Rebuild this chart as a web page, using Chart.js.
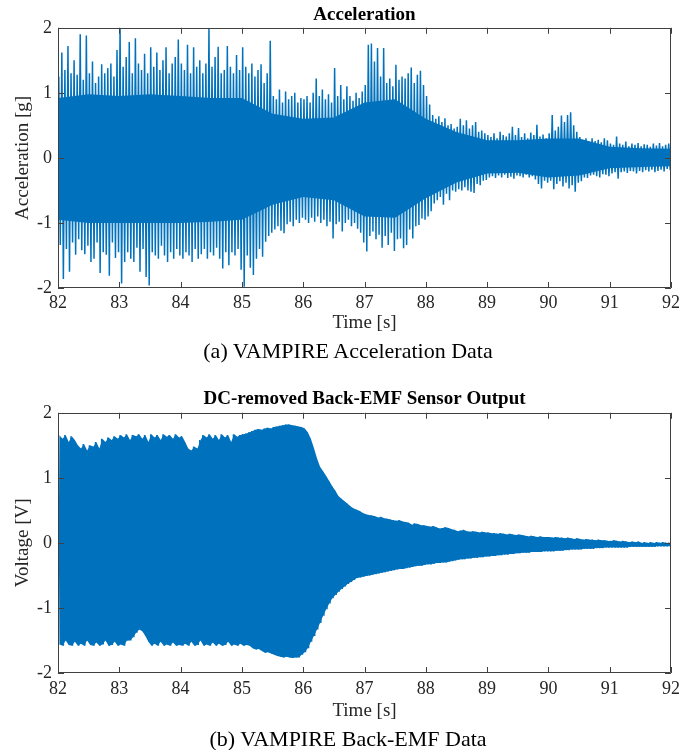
<!DOCTYPE html>
<html>
<head>
<meta charset="utf-8">
<script src="https://cdn.jsdelivr.net/npm/chart.js@4.4.1/dist/chart.umd.min.js"></script>
<style>
  body { margin: 0; background: #fff; }
  #page { position: relative; width: 696px; height: 750px; }
  canvas { position: absolute; left: 0; }
  .caption { position: absolute; left: 0; width: 696px; text-align: center; font: 22px "Liberation Serif", "Times New Roman", serif; color: #000; }
</style>
</head>
<body>
<div id="page">
  <canvas id="accChart" width="696" height="340" style="top:0"></canvas>
  <div class="caption" style="top:338px">(a) VAMPIRE Acceleration Data</div>
  <canvas id="emfChart" width="696" height="343" style="top:385px"></canvas>
  <div class="caption" style="top:726px">(b) VAMPIRE Back-EMF Data</div>
</div>
<script>
const windowStart = 82;
const windowStep = 0.05;

const timeTickLabels = ['82', '83', '84', '85', '86', '87', '88', '89', '90', '91', '92'];
const ampTickLabels = ['-2', '-1', '0', '1', '2'];

const accMax = [
    1.25, 1.62, 1.35, 1.72, 1.30, 1.50, 1.28, 1.90, 1.20, 1.88, 1.30, 1.48, 1.15, 1.25, 1.44, 1.30, 1.38, 1.45, 1.25, 1.66,
    2.00, 1.40, 1.55, 1.78, 1.30, 1.84, 1.45, 1.35, 1.60, 1.30, 1.70, 1.40, 1.62, 1.35, 1.50, 1.70, 1.30, 1.45, 1.55, 1.82,
    1.45, 1.35, 1.74, 1.30, 1.70, 1.40, 1.50, 1.30, 1.45, 2.00, 1.40, 1.55, 1.71, 1.30, 1.35, 1.72, 1.40, 1.30, 1.58, 1.35,
    1.70, 1.40, 1.30, 1.45, 1.25, 1.35, 1.44, 1.15, 1.30, 1.80, 0.95, 0.90, 1.05, 0.85, 1.02, 0.90, 0.95, 1.00, 0.85, 0.92,
    0.90, 0.95, 0.85, 1.00, 1.22, 0.95, 1.05, 0.90, 0.98, 0.85, 1.38, 0.95, 1.12, 0.90, 1.10, 0.95, 0.88, 1.00, 0.92, 1.02,
    1.12, 1.74, 1.76, 1.48, 1.69, 1.25, 1.69, 1.15, 1.22, 1.10, 1.43, 1.20, 1.25, 1.22, 1.30, 1.39, 1.15, 1.28, 1.34, 1.12,
    0.95, 0.82, 0.66, 0.60, 0.64, 0.55, 0.61, 0.50, 0.52, 0.45, 0.48, 0.60, 0.50, 0.58, 0.45, 0.50, 0.55, 0.40, 0.42, 0.38,
    0.35, 0.32, 0.38, 0.30, 0.40, 0.35, 0.33, 0.38, 0.48, 0.35, 0.46, 0.32, 0.38, 0.30, 0.39, 0.35, 0.51, 0.33, 0.36, 0.30,
    0.38, 0.66, 0.42, 0.48, 0.65, 0.55, 0.66, 0.70, 0.50, 0.40, 0.32, 0.28, 0.30, 0.25, 0.30, 0.26, 0.28, 0.24, 0.30, 0.27,
    0.22, 0.20, 0.33, 0.22, 0.20, 0.25, 0.18, 0.22, 0.20, 0.23, 0.18, 0.21, 0.20, 0.17, 0.22, 0.19, 0.23, 0.18, 0.20, 0.22
];
const accMin = [
    -1.34, -1.86, -1.40, -1.75, -1.30, -1.49, -1.25, -1.42, -1.48, -1.35, -1.60, -1.55, -1.30, -1.77, -1.45, -1.49, -1.81, -1.30, -1.54, -1.45,
    -1.93, -1.60, -1.45, -1.55, -1.60, -1.38, -1.75, -1.40, -1.83, -1.96, -1.45, -1.50, -1.55, -1.35, -1.50, -1.60, -1.45, -1.55, -1.40, -1.50,
    -1.55, -1.45, -1.50, -1.60, -1.40, -1.55, -1.48, -1.40, -1.55, -1.45, -1.50, -1.38, -1.55, -1.70, -1.45, -1.65, -1.45, -1.50, -1.40, -1.72,
    -1.98, -1.50, -1.69, -1.80, -1.55, -1.40, -1.52, -1.29, -1.20, -1.15, -1.10, -1.05, -1.12, -1.16, -1.02, -0.98, -1.05, -0.95, -1.00, -0.92,
    -0.95, -1.00, -0.92, -0.98, -0.90, -1.00, -0.95, -1.05, -0.98, -1.24, -1.02, -0.98, -1.13, -1.00, -0.95, -1.05, -1.00, -1.09, -1.15, -1.30,
    -1.44, -1.20, -1.13, -1.25, -1.18, -1.38, -1.20, -1.34, -1.15, -1.43, -1.25, -1.24, -1.39, -1.34, -1.10, -1.24, -1.05, -1.03, -0.93, -0.95,
    -0.90, -0.82, -0.70, -0.65, -0.60, -0.72, -0.55, -0.65, -0.50, -0.52, -0.48, -0.50, -0.45, -0.50, -0.52, -0.54, -0.40, -0.42, -0.35, -0.34,
    -0.30, -0.28, -0.31, -0.27, -0.30, -0.26, -0.31, -0.29, -0.32, -0.27, -0.28, -0.30, -0.26, -0.30, -0.28, -0.33, -0.40, -0.47, -0.35, -0.38,
    -0.35, -0.48, -0.40, -0.36, -0.44, -0.38, -0.47, -0.42, -0.52, -0.38, -0.36, -0.30, -0.31, -0.27, -0.26, -0.28, -0.30, -0.25, -0.26, -0.28,
    -0.24, -0.22, -0.32, -0.22, -0.21, -0.23, -0.20, -0.21, -0.24, -0.20, -0.22, -0.19, -0.21, -0.18, -0.22, -0.20, -0.18, -0.21, -0.17, -0.19
];

// solid inner band of the acceleration trace, read every half second
const accCoreTime = [82, 82.5, 83, 83.5, 84, 84.5, 85, 85.5, 86, 86.5, 87, 87.5, 88, 88.5, 89, 89.5, 90, 90.5, 91, 91.5, 92];
const accCoreHi = [0.92, 0.98, 0.95, 0.98, 0.95, 0.92, 0.92, 0.68, 0.60, 0.62, 0.85, 0.90, 0.60, 0.40, 0.27, 0.27, 0.30, 0.30, 0.17, 0.15, 0.14];
const accCoreLo = [-0.95, -1.00, -1.00, -1.00, -1.00, -0.98, -0.95, -0.72, -0.60, -0.65, -0.90, -0.92, -0.62, -0.38, -0.24, -0.23, -0.30, -0.27, -0.16, -0.14, -0.13];

const emfMax = [
    1.65, 1.60, 1.66, 1.55, 1.64, 1.58, 1.50, 1.45, 1.52, 1.42, 1.50, 1.48, 1.55, 1.45, 1.60, 1.55, 1.62, 1.58, 1.64, 1.60,
    1.66, 1.62, 1.67, 1.58, 1.66, 1.64, 1.67, 1.60, 1.66, 1.55, 1.67, 1.62, 1.66, 1.58, 1.67, 1.63, 1.66, 1.60, 1.67, 1.62,
    1.64, 1.55, 1.45, 1.42, 1.48, 1.45, 1.58, 1.66, 1.62, 1.67, 1.60, 1.66, 1.58, 1.67, 1.62, 1.66, 1.55, 1.67, 1.63, 1.66,
    1.67, 1.68, 1.70, 1.72, 1.74, 1.75, 1.74, 1.76, 1.77, 1.76, 1.78, 1.79, 1.80, 1.81, 1.82, 1.82, 1.81, 1.80, 1.79, 1.78,
    1.76, 1.70, 1.60, 1.46, 1.30, 1.17, 1.10, 1.03, 0.95, 0.87, 0.80, 0.72, 0.68, 0.64, 0.60, 0.56, 0.53, 0.51, 0.49, 0.46,
    0.44, 0.43, 0.42, 0.41, 0.39, 0.40, 0.38, 0.37, 0.36, 0.35, 0.34, 0.35, 0.33, 0.32, 0.31, 0.28, 0.30, 0.29, 0.27, 0.27,
    0.26, 0.25, 0.26, 0.24, 0.22, 0.23, 0.24, 0.23, 0.21, 0.20, 0.18, 0.19, 0.20, 0.18, 0.17, 0.18, 0.17, 0.16, 0.17, 0.16,
    0.16, 0.15, 0.15, 0.14, 0.15, 0.14, 0.13, 0.14, 0.13, 0.12, 0.13, 0.12, 0.11, 0.10, 0.11, 0.10, 0.09, 0.10, 0.09, 0.09,
    0.09, 0.08, 0.09, 0.08, 0.08, 0.07, 0.08, 0.07, 0.06, 0.07, 0.06, 0.05, 0.06, 0.05, 0.05, 0.04, 0.05, 0.04, 0.04, 0.03,
    0.03, 0.04, 0.03, 0.02, 0.03, 0.02, 0.01, 0.02, 0.01, 0.02, 0.00, 0.01, 0.00, 0.01, 0.00, 0.01, 0.00, 0.01, 0.00, 0.00
];
const emfMin = [
    -1.56, -1.58, -1.50, -1.57, -1.58, -1.52, -1.58, -1.55, -1.58, -1.50, -1.57, -1.58, -1.53, -1.58, -1.56, -1.50, -1.58, -1.57, -1.52, -1.58,
    -1.56, -1.58, -1.50, -1.50, -1.45, -1.38, -1.33, -1.36, -1.43, -1.52, -1.58, -1.55, -1.58, -1.52, -1.58, -1.56, -1.58, -1.53, -1.58, -1.57,
    -1.58, -1.55, -1.58, -1.52, -1.58, -1.57, -1.50, -1.58, -1.56, -1.58, -1.53, -1.58, -1.55, -1.58, -1.57, -1.52, -1.58, -1.56, -1.58, -1.55,
    -1.58, -1.57, -1.58, -1.62, -1.64, -1.63, -1.66, -1.69, -1.68, -1.70, -1.72, -1.74, -1.75, -1.76, -1.75, -1.76, -1.77, -1.76, -1.76, -1.72,
    -1.68, -1.62, -1.52, -1.43, -1.33, -1.23, -1.12, -1.02, -0.93, -0.85, -0.80, -0.75, -0.71, -0.67, -0.63, -0.60, -0.57, -0.54, -0.53, -0.52,
    -0.51, -0.50, -0.49, -0.48, -0.47, -0.46, -0.45, -0.44, -0.43, -0.42, -0.41, -0.40, -0.40, -0.39, -0.38, -0.37, -0.36, -0.35, -0.35, -0.34,
    -0.33, -0.33, -0.32, -0.31, -0.31, -0.30, -0.30, -0.29, -0.28, -0.27, -0.26, -0.25, -0.25, -0.24, -0.24, -0.23, -0.23, -0.22, -0.22, -0.21,
    -0.21, -0.20, -0.20, -0.19, -0.19, -0.18, -0.18, -0.17, -0.17, -0.16, -0.16, -0.15, -0.15, -0.15, -0.14, -0.14, -0.14, -0.14, -0.13, -0.13,
    -0.13, -0.13, -0.12, -0.12, -0.12, -0.11, -0.11, -0.10, -0.10, -0.10, -0.10, -0.09, -0.09, -0.09, -0.09, -0.08, -0.08, -0.08, -0.07, -0.07,
    -0.07, -0.07, -0.07, -0.07, -0.07, -0.07, -0.06, -0.06, -0.06, -0.06, -0.06, -0.06, -0.06, -0.06, -0.06, -0.05, -0.05, -0.05, -0.05, -0.05
];

const serif = '"Liberation Serif", "Times New Roman", serif';
const lineBlue = '#0072BD';
const axisGray = '#404040';

// peak then trough for every window, so the line swings like the raw trace
function tracePoints(maxes, mins) {
    const pts = [];
    maxes.forEach((hi, i) => {
        const t = windowStart + i * windowStep;
        pts.push({ x: t + windowStep * 0.25, y: hi });
        pts.push({ x: t + windowStep * 0.75, y: mins[i] });
    });
    return pts;
}

function windowPoints(values) {
    return values.map((v, i) => ({ x: windowStart + (i + 0.5) * windowStep, y: v }));
}

function pairPoints(times, values) {
    return values.map((v, i) => ({ x: times[i], y: v }));
}

// MATLAB style box with the ticks pointing inwards on all four sides
const boxTicks = {
    id: 'boxTicks',
    afterDatasetsDraw(chart) {
        const { ctx, chartArea: a, scales: { x, y } } = chart;
        const len = 6;
        ctx.save();
        ctx.strokeStyle = axisGray;
        ctx.lineWidth = 1;
        ctx.beginPath();
        ctx.rect(Math.round(a.left) + 0.5, Math.round(a.top) + 0.5,
            Math.round(a.right) - Math.round(a.left) - 1, Math.round(a.bottom) - Math.round(a.top) - 1);
        x.ticks.forEach(t => {
            const px = Math.round(x.getPixelForValue(t.value)) + 0.5;
            ctx.moveTo(px, a.bottom); ctx.lineTo(px, a.bottom - len);
            ctx.moveTo(px, a.top); ctx.lineTo(px, a.top + len);
        });
        y.ticks.forEach(t => {
            const py = Math.round(y.getPixelForValue(t.value)) + 0.5;
            ctx.moveTo(a.left, py); ctx.lineTo(a.left + len, py);
            ctx.moveTo(a.right, py); ctx.lineTo(a.right - len, py);
        });
        ctx.stroke();
        ctx.restore();
    }
};

function makeChart(canvasId, title, yTitle, trace, coreHi, coreLo, xAxisHeight, titlePad) {
    const ctx = document.getElementById(canvasId).getContext('2d');
    return new Chart(ctx, {
        type: 'line',
        data: {
            datasets: [{
                data: trace,
                borderColor: lineBlue,
                borderWidth: 1.5,
                borderJoinStyle: 'bevel',
                pointRadius: 0,
                tension: 0,
                fill: false
            }, {
                data: coreHi,
                borderWidth: 0,
                pointRadius: 0,
                backgroundColor: lineBlue,
                fill: '+1'
            }, {
                data: coreLo,
                borderWidth: 0,
                pointRadius: 0,
                fill: false
            }]
        },
        options: {
            responsive: false,
            animation: false,
            parsing: false,
            normalized: true,
            layout: { padding: { left: 0, right: 25, top: 0, bottom: 0 } },
            scales: {
                x: {
                    type: 'linear',
                    min: 82,
                    max: 92,
                    grid: { display: false, drawTicks: false },
                    border: { display: false },
                    ticks: {
                        stepSize: 1,
                        padding: xAxisHeight > 52 ? 5 : 4,
                        maxRotation: 0,
                        color: '#262626',
                        font: { family: serif, size: 18 },
                        callback: (v, i) => timeTickLabels[i]
                    },
                    title: {
                        display: true,
                        text: 'Time [s]',
                        color: '#262626',
                        font: { family: serif, size: 19 },
                        padding: { top: 0, bottom: 6 }
                    },
                    afterFit: scale => { scale.height = xAxisHeight; }
                },
                y: {
                    min: -2,
                    max: 2,
                    grid: { display: false, drawTicks: false },
                    border: { display: false },
                    ticks: {
                        stepSize: 1,
                        padding: 6,
                        color: '#262626',
                        font: { family: serif, size: 18 },
                        callback: (v, i) => ampTickLabels[i]
                    },
                    title: {
                        display: true,
                        text: yTitle,
                        color: '#262626',
                        font: { family: serif, size: 19 },
                        padding: { top: 12, bottom: 0 }
                    },
                    afterFit: scale => { scale.width = 58; }
                }
            },
            plugins: {
                legend: { display: false },
                tooltip: { enabled: false },
                title: {
                    display: true,
                    fullSize: false,
                    text: title,
                    color: '#000',
                    font: { family: serif, size: 19, weight: 'bold' },
                    padding: titlePad
                }
            }
        },
        plugins: [boxTicks]
    });
}

makeChart('accChart', 'Acceleration', 'Acceleration [g]',
    tracePoints(accMax, accMin), pairPoints(accCoreTime, accCoreHi), pairPoints(accCoreTime, accCoreLo),
    52, { top: 4, bottom: 1 });
makeChart('emfChart', 'DC-removed Back-EMF Sensor Output', 'Voltage [V]',
    tracePoints(emfMax, emfMin), windowPoints(emfMax), windowPoints(emfMin),
    55, { top: 3, bottom: 2 });
</script>
</body>
</html>
